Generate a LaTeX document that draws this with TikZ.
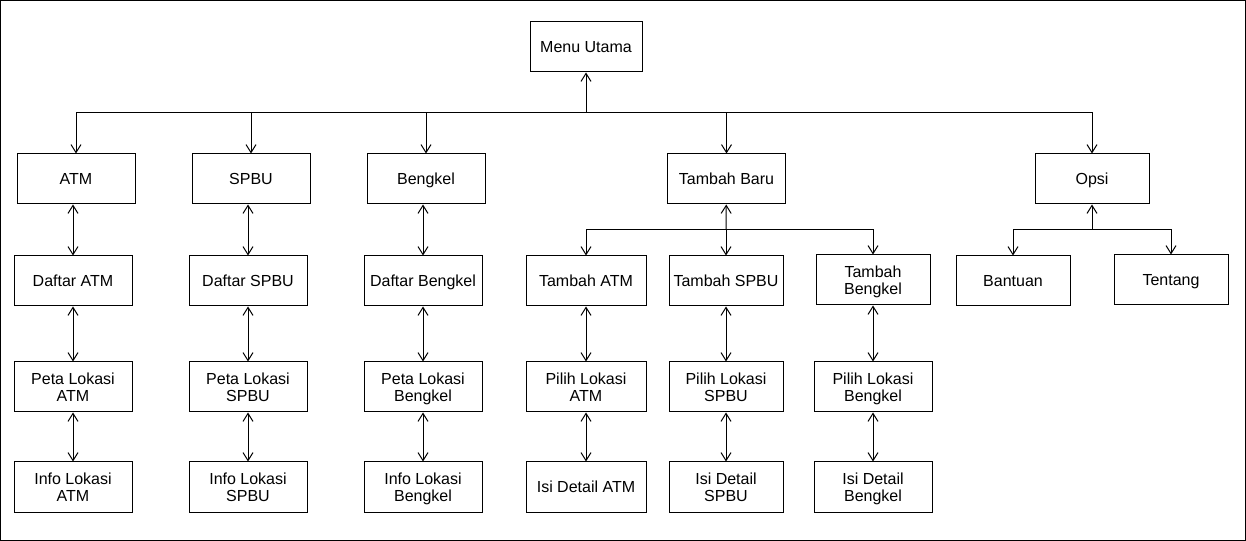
\documentclass[tikz,border=0pt]{standalone}
\usepackage{fontspec}
\setmainfont{Liberation Sans}
\usetikzlibrary{arrows.meta}

\begin{document}
\begin{tikzpicture}[
  x=0.75pt,y=-0.75pt,line width=0.75pt,
  menubox/.style={draw,rectangle,minimum height=37.5pt,minimum width=88.5pt,
    align=center,inner sep=1pt,text depth=0pt,font=\fontsize{12}{13}\selectfont},
  narrowbox/.style={menubox,minimum width=85.5pt},
  wide/.style={menubox,minimum width=90pt},
  link/.style={-{Straight Barb[length=6pt,width=7.5pt]}},
  twoway/.style={{Straight Barb[length=6pt,width=7.5pt]}-{Straight Barb[length=6pt,width=7.5pt]}}
]
  \useasboundingbox (0,0) rectangle (1246,541);
  \draw (0.5,0.5) rectangle (1245.5,540.5);

  % top
  \node[menubox,minimum width=84pt] (utama) at (586,47) {Menu Utama};

  % first level
  \node[menubox] (atm) at (76,179) {ATM};
  \node[menubox] (spbu) at (251,179) {SPBU};
  \node[menubox] (bengkel) at (426,179) {Bengkel};
  \node[menubox,minimum width=89pt] (tambah) at (726.5,179) {Tambah Baru};
  \node[narrowbox] (opsi) at (1092,179) {Opsi};

  % ATM column
  \node[menubox] (daftaratm) at (73,281) {Daftar ATM};
  \node[menubox] (petaatm) at (73,387) {Peta Lokasi\\ATM};
  \node[menubox] (infoatm) at (73,487) {Info Lokasi\\ATM};

  % SPBU column
  \node[menubox] (daftarspbu) at (248,281) {Daftar SPBU};
  \node[menubox] (petaspbu) at (248,387) {Peta Lokasi\\SPBU};
  \node[menubox] (infospbu) at (248,487) {Info Lokasi\\SPBU};

  % Bengkel column
  \node[menubox] (daftarbengkel) at (423,281) {Daftar Bengkel};
  \node[menubox] (petabengkel) at (423,387) {Peta Lokasi\\Bengkel};
  \node[menubox] (infobengkel) at (423,487) {Info Lokasi\\Bengkel};

  % Tambah Baru columns
  \node[wide] (tambahatm) at (586,281) {Tambah ATM};
  \node[wide] (pilihatm) at (586,387) {Pilih Lokasi\\ATM};
  \node[wide] (isiatm) at (586,487) {Isi Detail ATM};
  \node[narrowbox] (tambahspbu) at (726,281) {Tambah SPBU};
  \node[narrowbox] (pilihspbu) at (726,387) {Pilih Lokasi\\SPBU};
  \node[narrowbox] (isispbu) at (726,487) {Isi Detail\\SPBU};
  \node[narrowbox] (tambahbengkel) at (873,280) {Tambah\\Bengkel};
  \node[menubox] (pilihbengkel) at (873,387) {Pilih Lokasi\\Bengkel};
  \node[menubox] (isibengkel) at (873,487) {Isi Detail\\Bengkel};

  % Opsi
  \node[narrowbox] (bantuan) at (1013,281) {Bantuan};
  \node[narrowbox] (tentang) at (1171,280) {Tentang};

  % branch points
  \coordinate (bus) at (586,113);
  \coordinate (busbaru) at (726,230);
  \coordinate (busopsi) at (1092,230);

  \draw[link] (bus) -- (utama);
  \draw[link] (bus) -| (atm);
  \draw[link] (bus) -| (spbu);
  \draw[link] (bus) -| (bengkel);
  \draw[link] (bus) -| (tambah);
  \draw[link] (bus) -| (opsi);

  \draw[twoway] (atm.south -| daftaratm) -- (daftaratm);
  \draw[twoway] (daftaratm) -- (petaatm);
  \draw[twoway] (petaatm) -- (infoatm);
  \draw[twoway] (spbu.south -| daftarspbu) -- (daftarspbu);
  \draw[twoway] (daftarspbu) -- (petaspbu);
  \draw[twoway] (petaspbu) -- (infospbu);
  \draw[twoway] (bengkel.south -| daftarbengkel) -- (daftarbengkel);
  \draw[twoway] (daftarbengkel) -- (petabengkel);
  \draw[twoway] (petabengkel) -- (infobengkel);

  \draw[link] (busbaru) -- (tambah);
  \draw[link] (busbaru) -| (tambahatm);
  \draw[link] (busbaru) -- (tambahspbu);
  \draw[link] (busbaru) -| (tambahbengkel);
  \draw[twoway] (tambahatm) -- (pilihatm);
  \draw[twoway] (pilihatm) -- (isiatm);
  \draw[twoway] (tambahspbu) -- (pilihspbu);
  \draw[twoway] (pilihspbu) -- (isispbu);
  \draw[twoway] (tambahbengkel) -- (pilihbengkel);
  \draw[twoway] (pilihbengkel) -- (isibengkel);

  \draw[link] (busopsi) -- (opsi);
  \draw[link] (busopsi) -| (bantuan);
  \draw[link] (busopsi) -| (tentang);
\end{tikzpicture}
\end{document}
